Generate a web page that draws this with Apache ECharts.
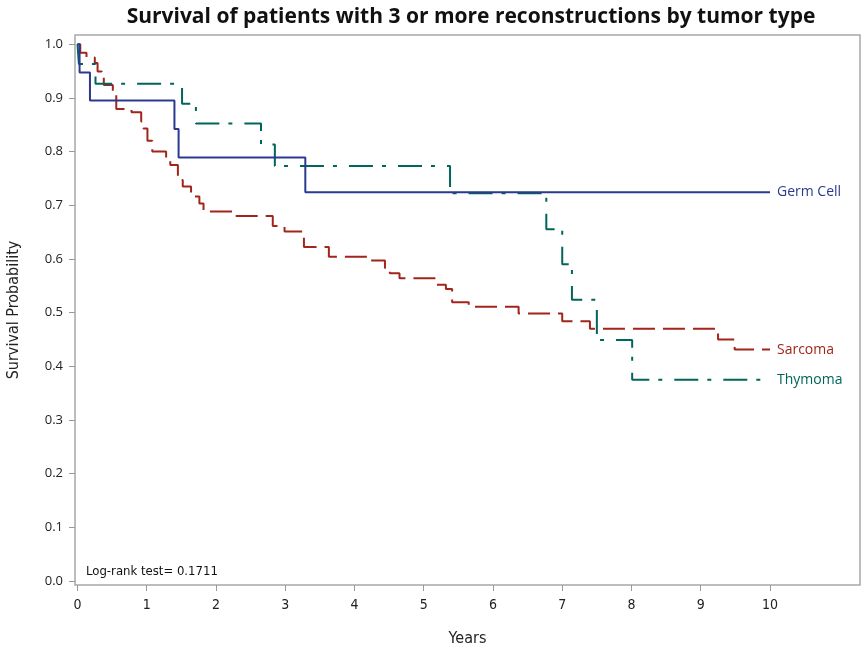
<!DOCTYPE html>
<html>
<head>
<meta charset="utf-8">
<script src="https://cdn.jsdelivr.net/npm/echarts@6/dist/echarts.min.js"></script>
<style>html,body{margin:0;padding:0;background:#fff}#c{width:866px;height:648px}</style>
</head>
<body>
<div id="c"></div>
<script>
// ---- data ----
const germTimes = [0, 0.03, 0.18, 1.40, 1.46, 3.29, 10.0];
const germSurv  = [1.0, 0.947, 0.895, 0.842, 0.789, 0.724, 0.724];

const thymTimes = [0, 0.02, 0.26, 1.51, 1.71, 2.65, 2.85, 5.38, 6.77, 7.00, 7.14, 7.50, 8.01, 10.0];
const thymSurv  = [1.0, 0.963, 0.926, 0.889, 0.852, 0.813, 0.773, 0.722, 0.655, 0.590, 0.524, 0.449, 0.375, 0.375];

const sarcTimes = [0, 0.04, 0.13, 0.25, 0.29, 0.35, 0.38, 0.51, 0.56, 0.78, 0.92, 0.95, 1.01, 1.08, 1.28, 1.34, 1.45, 1.52, 1.64, 1.76, 1.82, 2.26, 2.82, 2.99, 3.27, 3.63, 4.23, 4.44, 4.51, 4.65, 5.18, 5.32, 5.41, 5.65, 6.37, 7.00, 7.40, 9.25, 9.49, 10.0];
const sarcSurv  = [1.0, 0.984, 0.975, 0.965, 0.949, 0.939, 0.924, 0.905, 0.879, 0.873, 0.856, 0.843, 0.820, 0.800, 0.783, 0.775, 0.747, 0.735, 0.716, 0.703, 0.688, 0.680, 0.661, 0.651, 0.622, 0.604, 0.597, 0.583, 0.573, 0.564, 0.552, 0.544, 0.519, 0.511, 0.498, 0.484, 0.470, 0.450, 0.431, 0.431];

const xTicks = [0, 1, 2, 3, 4, 5, 6, 7, 8, 9, 10];
const yTicks = [0, 0.1, 0.2, 0.3, 0.4, 0.5, 0.6, 0.7, 0.8, 0.9, 1.0];

const titleText = 'Survival of patients with 3 or more reconstructions by tumor type';
const noteText = 'Log-rank test= 0.1711';

const zip = (a, b) => a.map((t, i) => [t, b[i]]);
const NARROW = '"DejaVu Sans Condensed", "Liberation Sans Narrow", "Liberation Sans", sans-serif';

const chart = echarts.init(document.getElementById('c'), null, {renderer: 'canvas'});

function kmSeries(name, times, surv, color, dash, width) {
  return {
    name: name,
    type: 'line',
    step: 'end',
    data: zip(times, surv),
    showSymbol: false,
    symbol: 'none',
    lineStyle: {color: color, width: width, type: dash},
    itemStyle: {color: color},
    endLabel: {
      show: true,
      formatter: '{a}',
      color: color,
      fontFamily: 'Open Sans',
      fontSize: 14,
      distance: 7
    },
    emphasis: {disabled: true}
  };
}

chart.setOption({
  animation: false,
  title: {
    text: titleText,
    left: 466,
    textAlign: 'center',
    top: 2,
    textStyle: {fontFamily: 'Open Sans', fontWeight: 'bold', fontSize: 21, color: '#111'}
  },
  grid: {
    left: 75, right: 6, top: 35, bottom: 63,
    outerBoundsMode: 'none',
    show: true, borderColor: '#a8a8a8', borderWidth: 1.5, containLabel: false
  },
  xAxis: {
    type: 'value',
    min: -0.036, max: 11.3,
    name: 'Years',
    nameLocation: 'middle',
    nameGap: 46,
    nameTextStyle: {fontFamily: NARROW, fontSize: 16, color: '#222'},
    axisLine: {show: false, onZero: false},
    splitLine: {show: false},
    axisTick: {show: true, length: 6, customValues: xTicks, lineStyle: {color: '#999'}},
    axisLabel: {
      customValues: xTicks, margin: 13,
      fontFamily: NARROW, fontSize: 14, color: '#222'
    }
  },
  yAxis: {
    type: 'value',
    min: -0.0075, max: 1.017,
    name: 'Survival Probability',
    nameLocation: 'middle',
    nameGap: 53,
    nameTextStyle: {fontFamily: NARROW, fontSize: 16, color: '#222'},
    axisLine: {show: false, onZero: false},
    splitLine: {show: false},
    axisTick: {show: true, length: 6, customValues: yTicks, lineStyle: {color: '#999'}},
    axisLabel: {
      customValues: yTicks, margin: 12,
      formatter: v => v.toFixed(1),
      fontFamily: 'Open Sans', fontSize: 13, color: '#222'
    }
  },
  graphic: [{
    type: 'text',
    left: 86, top: 565,
    style: {text: noteText, font: '13px ' + NARROW, fill: '#111'}
  }],
  series: [
    kmSeries('Sarcoma', sarcTimes, sarcSurv, '#a1251b', [22, 8], 2),
    kmSeries('Thymoma', thymTimes, thymSurv, '#00655a', [24, 9, 4, 12], 2),
    kmSeries('Germ Cell', germTimes, germSurv, '#2b3a8f', 'solid', 2)
  ]
});
</script>
</body>
</html>
